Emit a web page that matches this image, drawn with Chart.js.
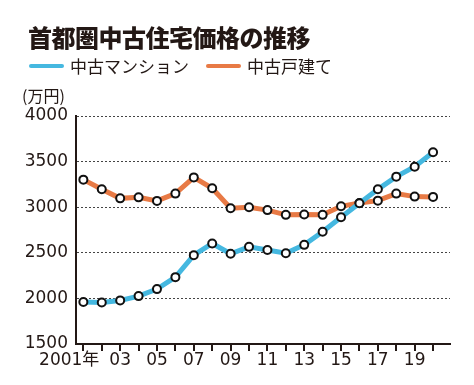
<!DOCTYPE html>
<html>
<head>
<meta charset="utf-8">
<script src="https://cdn.jsdelivr.net/npm/chart.js@4"></script>
<style>
  body { margin: 0; background: #fff; font-family: "Noto Sans CJK JP", sans-serif; color: #231815; }
  .wrap { position: relative; width: 474px; height: 385px; }
  canvas { position: absolute; left: 0; top: 0; }
  .title { position: absolute; left: 28px; top: 19px; font-size: 24px; font-weight: 900; letter-spacing: -0.5px; }
  .legend { position: absolute; left: 29px; top: 53px; font-size: 17px; display: flex; align-items: center; }
  .legend .sw { display: inline-block; width: 35px; height: 4px; border-radius: 2px; margin-right: 6px; }
  .legend .item { display: flex; align-items: center; margin-right: 17px; }
  .unit { position: absolute; left: 22px; top: 83px; font-size: 16px; }
</style>
</head>
<body>
<div class="wrap">
  <canvas id="c" width="474" height="385"></canvas>
  <div class="title">首都圏中古住宅価格の推移</div>
  <div class="legend">
    <span class="item"><span class="sw" style="background:#45b8e0"></span>中古マンション</span>
    <span class="item"><span class="sw" style="background:#e87a45"></span>中古戸建て</span>
  </div>
  <div class="unit">(万円)</div>
</div>
<script>
const years = [2001, 2002, 2003, 2004, 2005, 2006, 2007, 2008, 2009, 2010,
               2011, 2012, 2013, 2014, 2015, 2016, 2017, 2018, 2019, 2020];
const mansion = [1960, 1956, 1978, 2025, 2102, 2233, 2474, 2602, 2489, 2565,
                 2531, 2496, 2587, 2730, 2890, 3043, 3196, 3335, 3444, 3603];
const kodate = [3302, 3196, 3097, 3108, 3069, 3149, 3327, 3207, 2988, 2999,
                2968, 2916, 2919, 2916, 3010, 3047, 3072, 3149, 3116, 3113];
const yTicks = [1500, 2000, 2500, 3000, 3500, 4000];
const xLabelYears = [2001, 2003, 2005, 2007, 2009, 2011, 2013, 2015, 2017, 2019];

const toPts = vals => vals.map((v, i) => ({ x: years[i], y: v }));
const ink = "#231815";
const tickFont = '17px "DejaVu Sans", "Noto Sans CJK JP", sans-serif';

const ds = (label, vals, color) => ({
  label,
  data: toPts(vals),
  borderColor: color,
  borderWidth: 5,
  pointRadius: 4,
  pointBorderWidth: 2,
  pointBorderColor: "#111",
  pointBackgroundColor: "#fff",
  tension: 0,
});

// x labels and tick marks; the first label reads "2001年" with the digits ending at the tick
const xLabels = {
  id: "xLabels",
  afterDraw: chart => {
    const { ctx, scales: { x } } = chart;
    const base = chart.chartArea.bottom;
    ctx.save();
    ctx.setLineDash([]);
    ctx.fillStyle = ink;
    years.forEach(yr => {
      const px = Math.round(x.getPixelForValue(yr));
      ctx.fillRect(px - 1, base, 2, 7);
    });
    ctx.font = tickFont;
    ctx.textBaseline = "middle";
    xLabelYears.forEach(yr => {
      const px = x.getPixelForValue(yr);
      if (yr === years[0]) {
        ctx.textAlign = "right";
        const nen = ctx.measureText("年").width;
        ctx.fillText(yr + "年", px + nen - 1, base + 17);
      } else {
        ctx.textAlign = "center";
        ctx.fillText(String(yr).slice(2), px, base + 17);
      }
    });
    ctx.restore();
  },
};

new Chart(document.getElementById("c"), {
  type: "line",
  data: {
    datasets: [
      ds("中古マンション", mansion, "#45b8e0"),
      ds("中古戸建て", kodate, "#e87a45"),
    ],
  },
  options: {
    responsive: false,
    animation: false,
    layout: { padding: { left: 0, right: 24, top: 116, bottom: 0 } },
    plugins: { legend: { display: false }, tooltip: { enabled: false } },
    scales: {
      x: {
        type: "linear",
        min: 2000.6,
        max: 2020.92,
        afterBuildTicks: s => { s.ticks = years.map(v => ({ value: v })); },
        afterFit: s => { s.height = 41; },
        border: { color: ink, width: 2 },
        grid: { display: false },
        ticks: { display: false },
      },
      y: {
        min: 1500,
        max: 4000,
        afterBuildTicks: s => { s.ticks = yTicks.map(v => ({ value: v })); },
        afterFit: s => { s.width = 76; },
        border: { color: ink, width: 2, dash: [2, 2] },
        grid: {
          drawTicks: false,
          color: "#444",
          lineWidth: 1,
        },
        ticks: {
          padding: 8,
          color: ink,
          font: { family: '"DejaVu Sans", "Noto Sans CJK JP"', size: 17 },
          callback: v => String(v),
        },
      },
    },
  },
  plugins: [xLabels],
});
</script>
</body>
</html>
